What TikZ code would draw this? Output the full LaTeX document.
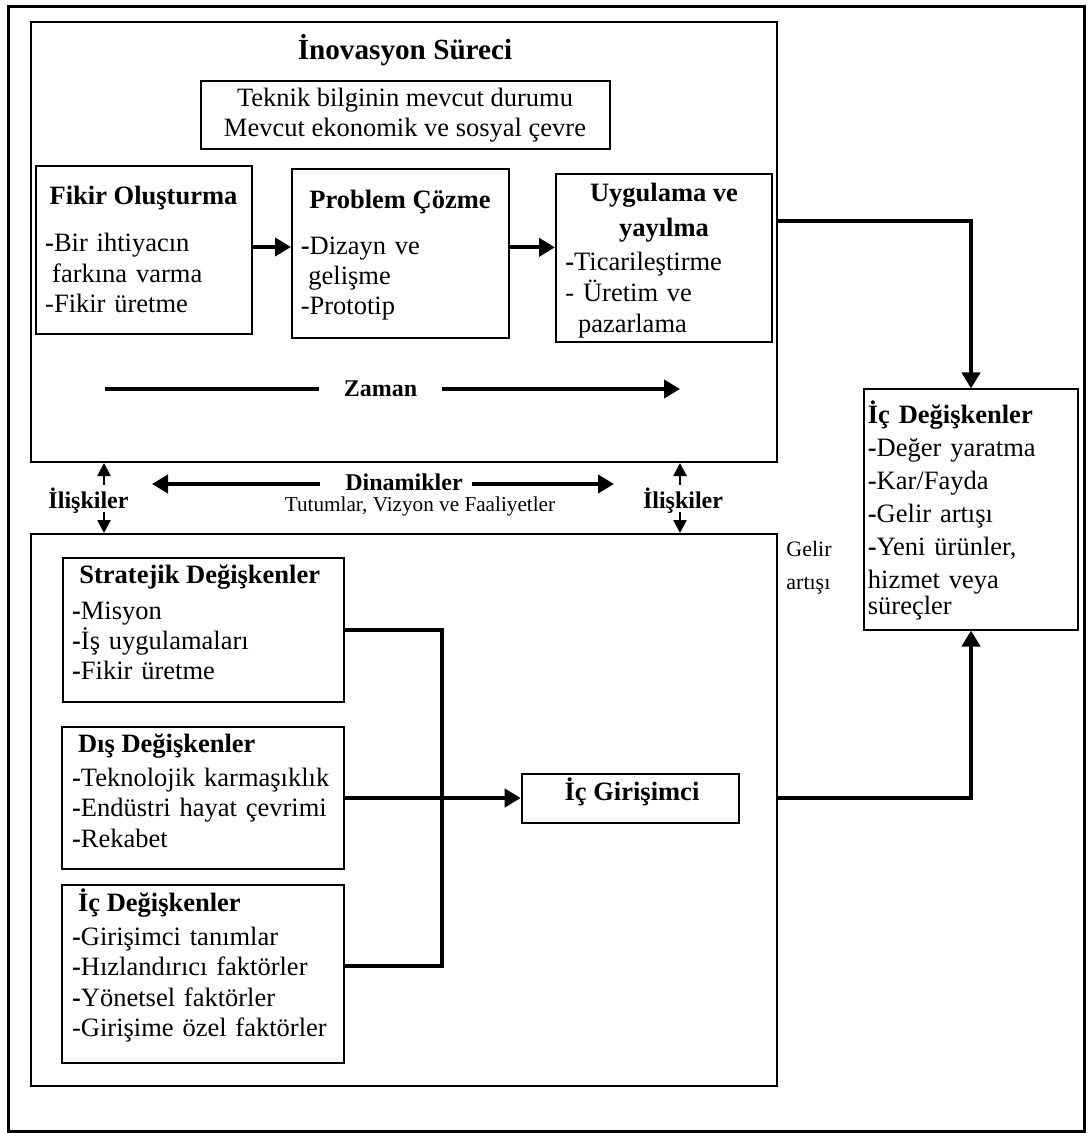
\documentclass[tikz,border=0pt]{standalone}
\usepackage{fontspec}
\setmainfont{Liberation Serif}
\usetikzlibrary{arrows.meta,fit,calc}
\begin{document}
\begin{tikzpicture}[x=0.5pt,y=-0.5pt,
  box/.style={draw,line width=1pt,inner sep=0pt},
  body/.style={font=\fontsize{13.25}{15}\selectfont,inner sep=0pt,anchor=base west,text width=300pt,align=left},
  bodyc/.style={font=\fontsize{13.25}{15}\selectfont,inner sep=0pt,anchor=base},
  head/.style={font=\fontsize{13.25}{15}\selectfont\bfseries,inner sep=0pt,anchor=base},
  headw/.style={head,anchor=base west},
  lbl/.style={font=\fontsize{12}{14}\selectfont\bfseries,inner sep=0pt,anchor=base},
  wire/.style={line width=2pt},
  conn/.style={line width=2pt,-{Triangle[length=8pt,width=9pt]}},
  rel/.style={line width=1.3pt,-{Triangle[length=6.5pt,width=6.5pt]}}
]
\useasboundingbox (0,0) rectangle (1090,1133);
\fill[white] (0,0) rectangle (1090,1133);

% outer frame
\node[draw,line width=1.5pt,inner sep=0pt,fit={(8,7) (1084,1131)}] (frame) {};

% ---- innovation process ----
\node[box,fit={(31,22) (777,462)}] (ino) {};
\node[head,font=\fontsize{14.6}{16}\selectfont\bfseries] (inoh) at (405,60) {İnovasyon Süreci};

\node[box,fit={(201,81) (610,149.5)}] (env) {};
\node[bodyc] (env1) at (405,106.7) {Teknik bilginin mevcut durumu};
\node[bodyc] (env2) at (405,136.7) {Mevcut ekonomik ve sosyal çevre};

\node[box,fit={(35.6,166) (252,334)}] (fik) {};
\node[head] (fikh) at (143.5,205) {Fikir Oluşturma};
\node[body,font=\fontsize{13.25}{15.3}\selectfont] (fikt) at (44.8,251.5)
  {\textbf{-}Bir ihtiyacın\\\hspace*{3.5pt}farkına varma\\-Fikir üretme};

\node[box,fit={(292,169) (509,337.7)}] (prob) {};
\node[head] (probh) at (400,208.3) {Problem Çözme};
\node[body] (probt) at (300.4,255)
  {\textbf{-}Dizayn ve\\\hspace*{3.8pt}gelişme\\-Prototip};

\node[box,fit={(556,174) (772,342)}] (uyg) {};
\node[head] (uygh1) at (664,201.7) {Uygulama ve};
\node[head] (uygh2) at (664,237) {yayılma};
\node[body,font=\fontsize{13.25}{15.5}\selectfont] (uygt) at (565,271)
  {\textbf{-}Ticarileştirme\\- Üretim ve\\\hspace*{6.3pt}pazarlama};

\coordinate (a1) at ($(fik.east)+(0,-3)$);
\coordinate (a2) at ($(prob.east)+(0,-6)$);
\draw[conn] (a1) -- (a1 -| prob.west);
\draw[conn] (a2) -- (a2 -| uyg.west);

% time axis
\coordinate (zs) at (105,389);
\coordinate (ze) at (680,389);
\node[lbl,anchor=center,inner xsep=12.25pt] (zaman) at (380.5,389) {Zaman};
\draw[wire] (zs) -- (zaman.west);
\draw[conn] (zaman.east) -- (ze);

% dynamics
\node[lbl] (dyn) at (404,490) {Dinamikler};
\node[font=\fontsize{10.6}{12}\selectfont,inner sep=0pt,anchor=base] (dyns) at (420,511) {Tutumlar, Vizyon ve Faaliyetler};
\coordinate (dl) at (152,484);
\coordinate (dg1) at (320,484);
\coordinate (dg2) at (471.7,484);
\coordinate (dr) at (614,484);
\draw[conn] (dg1) -- (dl);
\draw[conn] (dg2) -- (dr);

% lower box
\node[box,fit={(31,534) (777,1086)}] (low) {};

% relations
\node[lbl] (relL) at (88.5,508) {İlişkiler};
\node[lbl] (relR) at (683,508) {İlişkiler};
\coordinate (rl1) at (104,485);
\coordinate (rl2) at (104,512);
\coordinate (rr1) at (680,485);
\coordinate (rr2) at (680,512);
\draw[rel] (rl1) -- (rl1 |- ino.south);
\draw[rel] (rl2) -- (rl2 |- low.north);
\draw[rel] (rr1) -- (rr1 |- ino.south);
\draw[rel] (rr2) -- (rr2 |- low.north);

\node[body,font=\fontsize{11}{16.5}\selectfont] (gelir) at (786,556) {Gelir\\artışı};

% outcome box
\node[box,fit={(864,389.5) (1078,629.5)}] (ic2) {};
\node[body,font=\fontsize{13.25}{16.5}\selectfont] (ic2t) at (867.5,423)
  {\textbf{İç Değişkenler}\\\textbf{-}Değer yaratma\\\textbf{-}Kar/Fayda\\\textbf{-}Gelir artışı\\\textbf{-}Yeni ürünler,\\hizmet veya\\[-3.5pt]süreçler};

% variable groups
\node[box,fit={(63.3,557.7) (344.3,702.3)}] (str) {};
\node[headw] (strh) at (79,583.3) {Stratejik Değişkenler};
\node[body] (strt) at (71.7,619)
  {\textbf{-}Misyon\\\textbf{-}İş uygulamaları\\\textbf{-}Fikir üretme};

\node[box,fit={(62.3,726.7) (344.3,869.3)}] (dis) {};
\node[headw] (dish) at (77.7,752.3) {Dış Değişkenler};
\node[body,font=\fontsize{13.25}{15.3}\selectfont] (dist) at (71.7,786)
  {\textbf{-}Teknolojik karmaşıklık\\\textbf{-}Endüstri hayat çevrimi\\\textbf{-}Rekabet};

\node[box,fit={(62.3,885) (344.3,1062.7)}] (icl) {};
\node[headw] (iclh) at (77.7,911) {İç Değişkenler};
\node[body,font=\fontsize{13.25}{15.25}\selectfont] (iclt) at (71.7,945)
  {\textbf{-}Girişimci tanımlar\\\textbf{-}Hızlandırıcı faktörler\\\textbf{-}Yönetsel faktörler\\-Girişime özel faktörler};

\node[box,fit={(521.7,774) (739,822.7)}] (gir) {};
\node[head] (girh) at (632,800.7) {İç Girişimci};

% connectors
\coordinate (jb) at (442,966);
\draw[wire] (str.east) -| (jb) -- (jb -| icl.east);
\draw[conn] (dis.east) -- (dis.east -| gir.west);
\draw[conn] (gir.east -| low.east) -| (ic2.south);
\coordinate (ua) at (777,221);
\draw[conn] (ua) -| (ic2.north);
\end{tikzpicture}
\end{document}
